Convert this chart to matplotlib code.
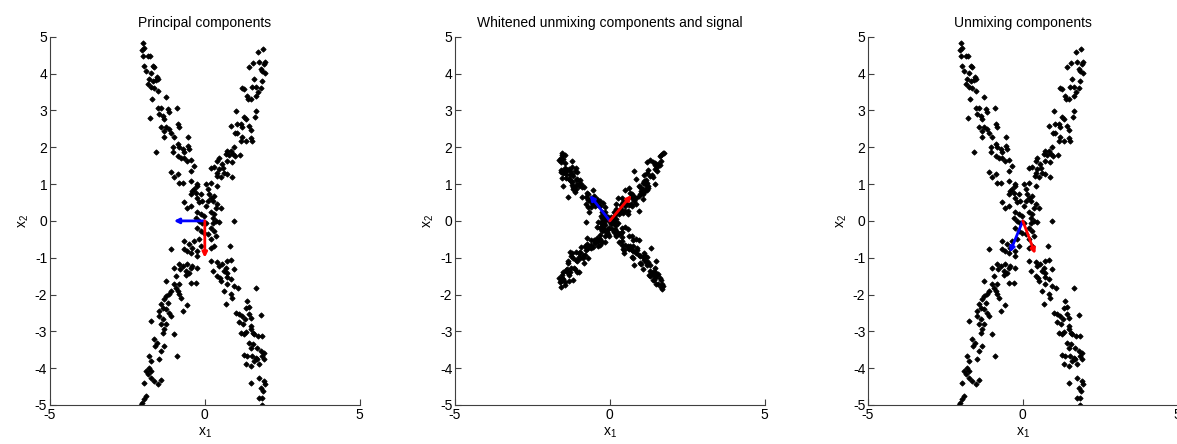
import numpy as np
import matplotlib
matplotlib.use('Agg')
import matplotlib.pyplot as plt

plt.rcParams['font.family'] = ['Liberation Sans', 'DejaVu Sans']
plt.rcParams['mathtext.default'] = 'regular'
plt.rcParams['axes.unicode_minus'] = False

# mixed signal samples (x1, x2), one arm at a time
upper_left = [
    (-2.0, 4.82), (-1.95, 4.71), (-2.04, 4.64), (-1.85, 4.49), (-1.76, 4.49), (-2.0, 4.49),
    (-1.95, 4.22), (-1.68, 4.22), (-1.63, 4.17), (-1.9, 4.08), (-1.74, 4.03), (-1.55, 3.92),
    (-1.79, 3.85), (-1.68, 3.81), (-1.57, 3.83), (-1.5, 3.85), (-1.85, 3.72), (-1.74, 3.63),
    (-1.63, 3.61), (-1.52, 3.54), (-1.72, 3.31), (-1.26, 3.37), (-1.52, 3.08), (-1.42, 3.08),
    (-1.18, 3.04), (-1.15, 2.95), (-0.90, 3.08), (-1.47, 2.90), (-1.36, 2.86), (-1.77, 2.79),
    (-1.31, 2.77), (-1.42, 2.54), (-1.26, 2.56), (-1.15, 2.49), (-0.88, 2.63), (-0.82, 2.56),
    (-1.33, 2.45), (-1.31, 2.27), (-1.09, 2.38), (-0.99, 2.27), (-0.88, 2.09), (-0.54, 2.27),
    (-1.58, 1.88), (-1.04, 2.0), (-1.04, 1.86), (-0.82, 2.0), (-0.72, 1.95), (-0.54, 2.04),
    (-0.51, 1.95), (-0.88, 1.77), (-0.77, 1.72), (-0.67, 1.72), (-0.56, 1.63), (-0.45, 1.65),
    (-0.67, 1.86), (-0.34, 1.48), (-1.09, 1.34), (-0.99, 1.20), (-0.88, 1.27), (-0.45, 1.36),
    (-0.82, 1.02), (-0.72, 1.02), (-0.45, 1.09), (-0.24, 1.0),
]
upper_right = [
    (1.88, 4.67), (1.73, 4.58), (1.93, 4.31), (1.91, 4.26), (1.75, 4.31), (1.57, 4.28),
    (1.43, 4.17), (1.80, 4.13), (1.85, 4.08), (1.96, 4.01), (1.85, 3.81), (1.59, 3.85),
    (1.21, 3.61), (1.27, 3.58), (1.54, 3.63), (1.65, 3.64), (1.80, 3.61), (1.72, 3.49),
    (1.65, 3.40), (1.35, 3.40), (1.39, 3.31), (1.50, 3.31), (1.0, 2.99), (1.64, 2.99),
    (1.27, 2.81), (1.32, 2.77), (1.62, 2.81), (0.84, 2.58), (1.03, 2.63), (1.16, 2.63),
    (1.21, 2.54), (1.43, 2.58), (1.50, 2.47), (0.97, 2.38), (1.05, 2.40), (1.21, 2.27),
    (1.32, 2.18), (1.48, 2.25), (1.54, 2.18), (1.16, 2.18), (0.94, 2.0), (0.84, 1.90),
    (0.73, 1.90), (0.68, 1.81), (0.78, 1.80), (0.92, 1.83), (0.97, 1.77), (1.14, 1.80),
    (0.46, 1.72), (0.41, 1.63), (0.73, 1.63), (0.57, 1.54), (0.89, 1.59), (0.19, 1.45),
    (0.30, 1.47), (0.46, 1.41), (0.41, 1.31), (0.58, 1.45), (0.73, 1.27), (0.62, 1.31),
    (0.89, 1.18), (0.39, 1.22), (0.52, 1.18), (0.19, 1.04), (0.41, 0.95), (0.03, 1.0),
    (0.09, 0.86),
]
centre = [
    (-0.24, 0.95), (-0.34, 0.86), (-0.40, 0.82), (-0.29, 0.77), (-0.45, 0.73), (-0.24, 0.63),
    (-0.13, 0.73), (-0.08, 0.54), (-0.18, 0.50), (0.14, 0.73), (0.19, 0.63), (0.25, 0.54),
    (0.30, 0.68), (0.09, 0.54), (0.03, 0.41), (-0.67, 0.50), (-0.56, 0.36), (-0.45, 0.41),
    (0.41, 0.45), (0.35, 0.36), (0.52, 0.36), (-0.24, 0.23), (-0.13, 0.18), (-0.02, 0.14),
    (-0.29, 0.09), (0.19, 0.23), (0.30, 0.18), (0.25, 0.09), (-0.18, 0.0), (-0.08, -0.05),
    (0.03, -0.05), (0.25, -0.05), (0.35, 0.0), (0.46, -0.02), (0.94, 0.0), (-0.24, -0.18),
    (-0.13, -0.27), (-0.02, -0.32), (0.19, -0.18), (0.30, -0.27), (0.09, -0.36), (0.35, -0.41),
    (0.19, -0.50), (-0.67, -0.54), (-0.50, -0.63), (-0.40, -0.73), (-0.34, -0.54), (-0.18, -0.50),
    (-0.13, -0.68), (-0.24, -0.82), (-1.09, -0.77), (-0.56, -0.82), (-0.45, -0.86), (-0.67, -0.77),
    (0.19, -0.73), (0.30, -0.68), (-0.24, -0.95), (0.82, -0.68), (0.19, -1.09),
]
lower_left = [
    (-0.82, -1.18), (-0.72, -1.22), (-0.79, -1.31), (-0.56, -1.18), (-0.45, -1.27), (-0.40, -1.22),
    (-0.24, -1.27), (-0.61, -1.36), (-0.50, -1.41), (-0.61, -1.47), (-0.99, -1.27), (-0.93, -1.50),
    (-1.26, -1.63), (-0.99, -1.72), (-0.82, -1.72), (-0.45, -1.70), (-0.29, -1.70), (-0.93, -1.81),
    (-0.88, -1.90), (-1.09, -1.90), (-1.15, -1.99), (-1.26, -2.04), (-0.82, -1.99), (-0.77, -2.09),
    (-1.31, -2.13), (-1.20, -2.22), (-0.58, -2.28), (-0.72, -2.45), (-1.42, -2.27), (-1.36, -2.36),
    (-1.47, -2.45), (-1.26, -2.40), (-1.15, -2.49), (-1.47, -2.58), (-1.36, -2.67), (-1.09, -2.58),
    (-1.74, -2.72), (-1.42, -2.81), (-1.26, -2.81), (-1.31, -2.95), (-1.36, -3.04), (-1.01, -3.08),
    (-1.63, -3.22), (-1.54, -3.31), (-1.61, -3.40), (-1.31, -3.40), (-1.42, -3.54), (-1.79, -3.67),
    (-1.74, -3.81), (-1.47, -3.76), (-0.90, -3.67), (-1.79, -3.99), (-1.90, -4.08), (-1.74, -4.08),
    (-1.85, -4.17), (-1.74, -4.26), (-1.42, -4.31), (-1.95, -4.40), (-1.63, -4.35), (-1.52, -4.44),
    (-1.90, -4.76), (-1.95, -4.85), (-2.04, -4.94), (-2.06, -5.0),
]
lower_right = [
    (0.41, -1.13), (0.46, -1.22), (0.57, -1.18), (0.68, -1.27), (0.73, -1.09), (0.84, -1.07),
    (0.28, -1.36), (0.41, -1.50), (0.49, -1.54), (0.62, -1.36), (0.73, -1.41), (0.71, -1.52),
    (0.84, -1.59), (0.94, -1.31), (0.52, -1.63), (0.73, -1.72), (0.94, -1.77), (1.07, -1.81),
    (1.64, -1.81), (0.62, -1.90), (0.84, -1.99), (0.89, -2.09), (0.68, -2.27), (1.35, -2.18),
    (1.43, -2.34), (1.32, -2.36), (1.01, -2.49), (1.10, -2.54), (1.20, -2.58), (1.31, -2.67),
    (1.43, -2.54), (1.48, -2.63), (1.80, -2.56), (1.11, -2.76), (1.22, -2.81), (1.48, -2.85),
    (1.50, -2.95), (1.16, -3.04), (1.27, -3.08), (1.32, -3.01), (1.55, -3.04), (1.60, -3.08),
    (1.72, -3.13), (1.85, -3.13), (1.43, -3.31), (1.55, -3.35), (1.48, -3.44), (1.70, -3.44),
    (1.80, -3.54), (1.91, -3.58), (1.27, -3.63), (1.37, -3.67), (1.54, -3.67), (1.65, -3.72),
    (1.70, -3.76), (1.59, -3.81), (1.85, -3.67), (1.91, -3.76), (1.32, -3.90), (1.48, -3.94),
    (1.75, -3.90), (1.48, -4.40), (1.75, -4.26), (1.91, -4.35), (1.96, -4.44), (1.80, -4.53),
    (1.89, -4.62), (1.75, -4.80), (1.85, -4.80), (1.85, -4.99),
]

# direction vectors (blue, red) for each panel
principal = [(-1.0, 0.0), (0.0, -1.0)]
whitened_dirs = [(-0.65, 0.70), (0.70, 0.70)]
unmixing = [(-0.42, -0.86), (0.40, -0.90)]

titles = ['Principal components', 'Whitened unmixing components and signal', 'Unmixing components']
lefts = [0.0425, 0.3866, 0.7375]

X = np.array(upper_left + upper_right + centre + lower_left + lower_right)

# whiten along the principal directions
E = np.array(principal).T
proj = (X - X.mean(axis=0)) @ E
Z = proj / proj.std(axis=0)

fig = plt.figure(figsize=(11.77, 4.44), dpi=100)

panels = [(X, principal), (Z, whitened_dirs), (X, unmixing)]
for i, (pts, dirs) in enumerate(panels):
    ax = fig.add_axes([lefts[i], 0.088, 0.263, 0.829])
    ax.plot(pts[:, 0], pts[:, 1], 'D', color='black', ms=2.7, mew=0.6, ls='none')
    for d, c in zip(dirs, ['blue', 'red']):
        ax.annotate('', xy=d, xytext=(0, 0),
                    arrowprops=dict(arrowstyle='-|>', color=c, lw=2, mutation_scale=7,
                                    shrinkA=0, shrinkB=0))
    ax.set_xlim(-5, 5)
    ax.set_ylim(-5, 5)
    ax.set_xticks([-5, 0, 5])
    ax.set_yticks(range(-5, 6))
    ax.spines['top'].set_visible(False)
    ax.spines['right'].set_visible(False)
    for s in ['left', 'bottom']:
        ax.spines[s].set_color('#404040')
        ax.spines[s].set_linewidth(0.8)
    ax.tick_params(direction='in', length=4, width=0.8, color='#404040', labelsize=10, pad=2)
    ax.set_title(titles[i], fontsize=10, pad=7)
    ax.set_xlabel('x$_1$', fontsize=10, labelpad=3)
    ax.set_ylabel('x$_2$', fontsize=10, labelpad=3)

fig.savefig('out.png', dpi=100)
